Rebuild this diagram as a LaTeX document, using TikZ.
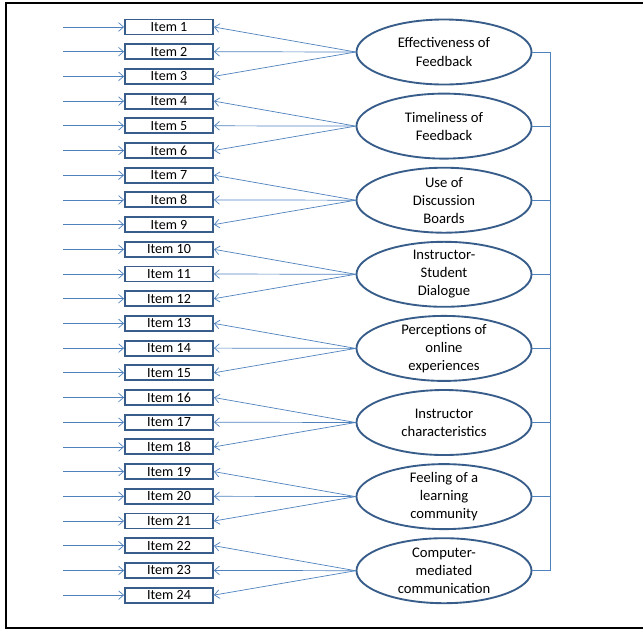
\documentclass[tikz,border=0pt]{standalone}
\usepackage{fontspec}
\setmainfont{Carlito}
\usetikzlibrary{arrows.meta, shapes.geometric}

\definecolor{boxblue}{HTML}{385D8A}
\definecolor{linkblue}{HTML}{4F81BD}

\begin{document}
\begin{tikzpicture}[x=0.03cm, y=-0.03cm,
    item/.style={draw=boxblue, line width=1.6pt, minimum width=2.64cm, minimum height=0.45cm,
      inner sep=0pt, font=\fontsize{12}{14}\selectfont},
    factor/.style={ellipse, draw=boxblue, line width=1.6pt, minimum width=5.25cm, minimum height=1.95cm,
      inner sep=-4pt, align=center, font=\fontsize{12.5}{15.5}\selectfont},
    link/.style={draw=linkblue, line width=0.6pt},
    tip/.style={link, -{Straight Barb[length=1.5mm, width=2.6mm]}}]
  \useasboundingbox (0,0) rectangle (643,630);
  \draw[line width=1.6pt] (6,3) rectangle (660,628);

  % observed items
  \foreach \i in {1,...,24} {
    \pgfmathsetmacro\yy{27+(\i-1)*24.7}
    \node[item] (item\i) at (169,\yy) {Item \i};
    \coordinate (in\i) at (63,\yy);
    \draw[tip] (in\i) -- (item\i);
  }

  % latent factors
  \foreach \j/\txt in {1/{Effectiveness of\\Feedback}, 2/{Timeliness of\\Feedback},
      3/{Use of\\Discussion\\Boards}, 4/{Instructor-\\Student\\Dialogue},
      5/{Perceptions of\\online\\experiences}, 6/{Instructor\\characteristics},
      7/{Feeling of a\\learning\\community}, 8/{Computer-\\mediated\\communication}} {
    \pgfmathsetmacro\yy{52+(\j-1)*74.1}
    \node[factor] (f\j) at (444,\yy) {\txt};
    \coordinate (bus\j) at (550,\yy);
    \draw[link] (f\j.east) -- (bus\j);
    \pgfmathtruncatemacro\a{3*\j-2}
    \pgfmathtruncatemacro\b{3*\j-1}
    \pgfmathtruncatemacro\c{3*\j}
    \draw[tip] (f\j.west) -- (item\a.east);
    \draw[tip] (f\j.west) -- (item\b.east);
    \draw[tip] (f\j.west) -- (item\c.east);
  }
  \draw[link] (bus1) -- (bus8);
\end{tikzpicture}
\end{document}
